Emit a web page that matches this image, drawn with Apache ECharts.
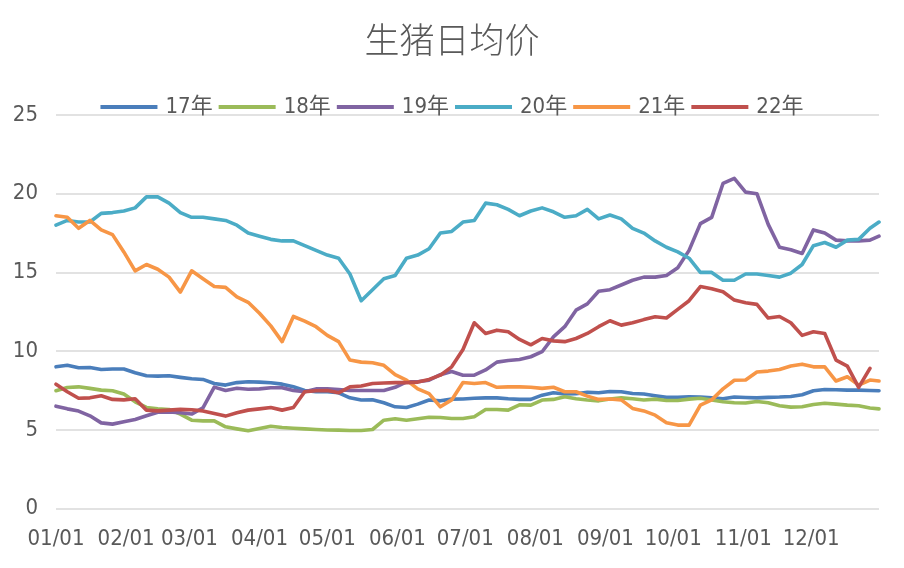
<!DOCTYPE html>
<html>
<head>
<meta charset="utf-8">
<script src="https://cdn.jsdelivr.net/npm/echarts@6/dist/echarts.min.js"></script>
<style>
html,body{margin:0;padding:0;background:#fff;}
#chart{width:904px;height:568px;}
</style>
</head>
<body>
<div id="chart"></div>
<script>
// day-of-year sample positions (0 = 01/01)
var days = [0,5,10,15,20,25,30,35,40,45,50,55,60,65,70,75,80,85,90,95,100,105,110,115,120,125,130,135,140,145,150,155,160,165,170,175,180,185,190,195,200,205,210,215,220,225,230,235,240,245,250,255,260,265,270,275,280,285,290,295,300,305,310,315,320,325,330,335,340,345,350,355,360,364];

var seriesNames = ['17年','18年','19年','20年','21年','22年'];

var y17 = [9.0,9.1,8.94,8.96,8.83,8.86,8.86,8.62,8.43,8.41,8.43,8.33,8.24,8.2,7.94,7.84,8.0,8.05,8.03,7.99,7.9,7.73,7.5,7.42,7.42,7.35,7.03,6.89,6.91,6.72,6.46,6.42,6.63,6.89,6.84,6.95,6.96,7.0,7.03,7.03,6.97,6.93,6.93,7.2,7.35,7.27,7.29,7.39,7.35,7.43,7.42,7.31,7.27,7.16,7.06,7.06,7.1,7.08,7.03,6.97,7.08,7.05,7.03,7.06,7.08,7.12,7.23,7.48,7.56,7.54,7.52,7.52,7.5,7.48];

var y18 = [7.48,7.69,7.73,7.63,7.52,7.48,7.27,6.78,6.42,6.33,6.29,6.0,5.61,5.57,5.57,5.19,5.06,4.94,5.08,5.23,5.15,5.1,5.06,5.02,4.99,4.98,4.96,4.96,5.02,5.61,5.7,5.61,5.7,5.8,5.78,5.72,5.72,5.83,6.29,6.29,6.25,6.59,6.57,6.89,6.93,7.1,6.97,6.89,6.84,6.96,7.03,6.97,6.89,6.95,6.86,6.86,6.95,7.0,6.89,6.78,6.72,6.7,6.8,6.72,6.53,6.44,6.46,6.61,6.69,6.63,6.57,6.53,6.38,6.33];

var y19 = [6.5,6.33,6.19,5.89,5.44,5.36,5.51,5.66,5.89,6.12,6.14,6.08,6.0,6.4,7.71,7.5,7.64,7.58,7.6,7.67,7.67,7.5,7.42,7.6,7.6,7.55,7.5,7.5,7.5,7.5,7.7,8.05,8.05,8.15,8.5,8.7,8.47,8.47,8.8,9.3,9.4,9.47,9.64,9.96,10.9,11.55,12.6,13.0,13.8,13.9,14.2,14.5,14.7,14.7,14.8,15.3,16.4,18.1,18.5,20.65,20.97,20.1,20.0,18.05,16.6,16.44,16.2,17.7,17.5,17.05,17.0,17.0,17.05,17.3];

var y20 = [18.0,18.3,18.2,18.2,18.75,18.8,18.9,19.1,19.8,19.8,19.4,18.8,18.5,18.5,18.4,18.3,18.0,17.5,17.3,17.1,17.0,17.0,16.7,16.4,16.1,15.9,14.9,13.2,13.9,14.6,14.8,15.9,16.1,16.5,17.5,17.6,18.2,18.3,19.4,19.3,19.0,18.6,18.9,19.1,18.85,18.5,18.6,19.0,18.4,18.65,18.4,17.8,17.5,17.0,16.6,16.3,15.9,15.0,15.0,14.5,14.5,14.9,14.9,14.8,14.7,14.95,15.5,16.7,16.9,16.6,17.05,17.1,17.8,18.2];

var y21 = [18.6,18.5,17.8,18.3,17.7,17.4,16.3,15.1,15.5,15.2,14.7,13.75,15.1,14.6,14.1,14.05,13.45,13.1,12.4,11.6,10.6,12.2,11.9,11.55,11.0,10.6,9.43,9.3,9.26,9.1,8.5,8.16,7.6,7.3,6.46,6.9,8.0,7.94,8.0,7.7,7.73,7.73,7.7,7.63,7.7,7.42,7.42,7.14,6.93,6.96,6.9,6.36,6.2,5.93,5.45,5.3,5.3,6.57,6.9,7.6,8.15,8.16,8.67,8.73,8.83,9.05,9.17,9.0,9.0,8.1,8.37,7.84,8.16,8.1];

var y22 = [7.9,7.42,7.0,7.03,7.16,6.93,6.9,6.97,6.25,6.2,6.25,6.3,6.27,6.2,6.04,5.87,6.08,6.25,6.33,6.42,6.25,6.42,7.42,7.48,7.5,7.35,7.73,7.78,7.94,7.97,8.0,8.0,8.03,8.2,8.47,9.0,10.1,11.8,11.12,11.33,11.23,10.74,10.4,10.8,10.65,10.6,10.8,11.12,11.55,11.93,11.65,11.8,12.0,12.18,12.1,12.65,13.2,14.1,13.96,13.77,13.24,13.07,12.97,12.1,12.2,11.8,11.0,11.23,11.12,9.43,9.05,7.7,8.9,null];

var monthStarts = [0,31,59,90,120,151,181,212,243,273,304,334];
var monthLabels = ['01/01','02/01','03/01','04/01','05/01','06/01','07/01','08/01','09/01','10/01','11/01','12/01'];

var colors = ['#4A7EBB','#9BBB59','#8064A2','#4BACC6','#F79646','#C0504D'];
var allY = [y17,y18,y19,y20,y21,y22];

var FONT = "'Liberation Sans Narrow','DejaVu Sans Condensed','Noto Sans CJK SC',sans-serif";

var chart = echarts.init(document.getElementById('chart'), null, {renderer:'canvas'});

var series = seriesNames.map(function(name, k){
  return {
    name: name,
    type: 'line',
    showSymbol: false,
    symbol: 'none',
    smooth: false,
    connectNulls: false,
    lineStyle: {width: 3.6, color: colors[k], cap: 'round', join: 'round'},
    itemStyle: {color: colors[k]},
    data: days.map(function(d, i){ return [d, allY[k][i]]; })
  };
});

chart.setOption({
  animation: false,
  backgroundColor: '#ffffff',
  color: colors,
  title: {
    text: '生猪日均价',
    left: 'center',
    top: 17,
    textStyle: {fontFamily: "'Noto Sans CJK SC',sans-serif", fontSize: 35, fontWeight: 300, color: '#595959'}
  },
  legend: {
    data: seriesNames,
    top: 91,
    left: 'center',
    icon: 'rect',
    itemWidth: 57,
    itemHeight: 4,
    itemGap: 6,
    textStyle: {fontFamily: FONT, fontSize: 22, color: '#595959', padding: [0,0,0,3]}
  },
  grid: {left: 56, right: 25, top: 115, bottom: 59.5, containLabel: false},
  xAxis: {
    type: 'value',
    min: 0,
    max: 364,
    axisLine: {show: false},
    axisTick: {show: false, customValues: monthStarts},
    splitLine: {show: false},
    axisLabel: {
      customValues: monthStarts,
      margin: 20,
      fontFamily: FONT,
      fontSize: 22,
      color: '#595959',
      formatter: function(v){
        var i = monthStarts.indexOf(v);
        return i >= 0 ? monthLabels[i] : '';
      }
    }
  },
  yAxis: {
    type: 'value',
    min: 0,
    max: 25,
    interval: 5,
    axisLine: {show: false},
    axisTick: {show: false},
    axisLabel: {margin: 18, fontFamily: FONT, fontSize: 22, color: '#595959'},
    splitLine: {lineStyle: {color: '#D9D9D9', width: 1.5}}
  },
  series: series
});
</script>
</body>
</html>
